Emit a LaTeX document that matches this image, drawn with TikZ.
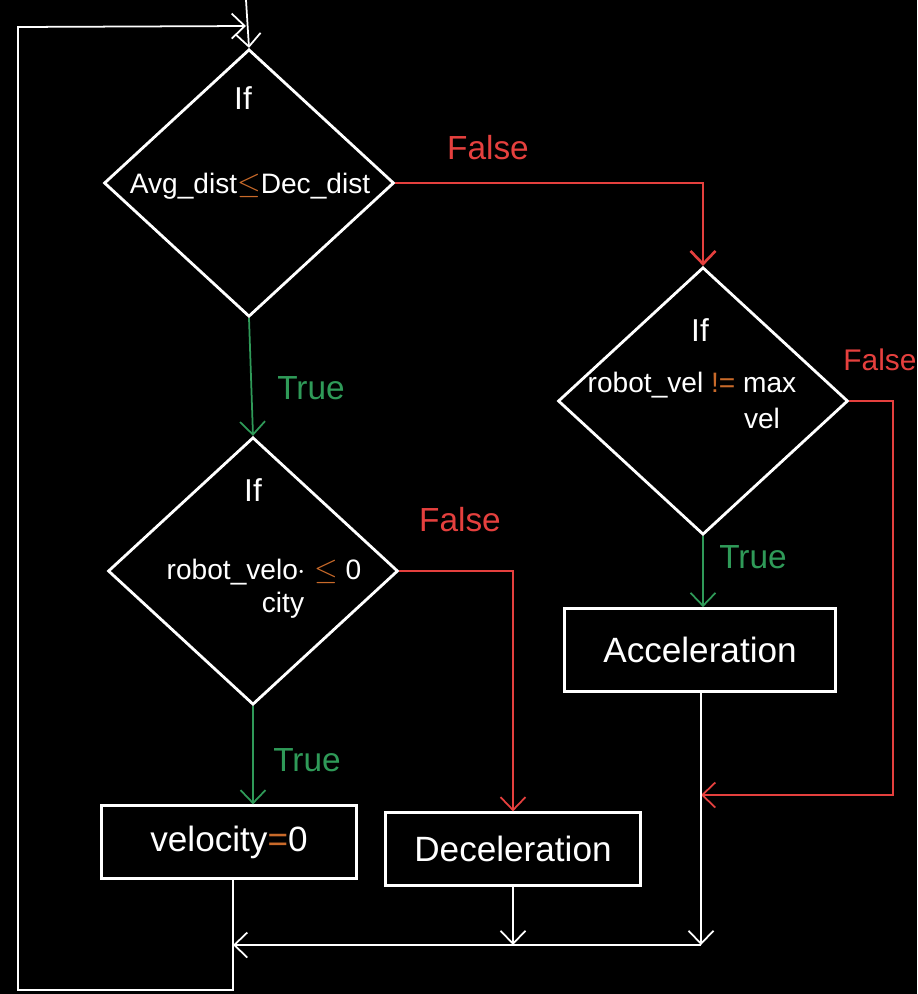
\documentclass[tikz,border=0pt]{standalone}
\usepackage{fontspec}
\setmainfont{Liberation Sans}
\usepackage{tikz}
\usetikzlibrary{
  positioning,
  arrows.meta,
  shapes.geometric
}
\usepackage{amsmath,amssymb}
\usepackage{xcolor}
\definecolor{falsered}{HTML}{E5403E}
\definecolor{truegreen}{HTML}{2F9A58}
\definecolor{ineq}{HTML}{C96A2A}

\begin{document}
\begin{tikzpicture}[
  x=0.02cm, y=-0.02cm,
  decision/.style={draw=white, line width=1.6pt, shape=diamond, inner sep=0pt,
                   minimum width=5.8cm, minimum height=5.35cm},
  box/.style={draw=white, line width=1.6pt, minimum width=5.1cm, minimum height=1.45cm,
              text=white, font=\fontsize{20}{24}\selectfont},
  txt/.style={text=white, font=\fontsize{16}{19}\selectfont, inner sep=1pt},
  lbl/.style={font=\fontsize{19}{22}\selectfont, inner sep=1pt},
  arr/.style={-{Straight Barb[length=2.6mm, width=5mm]}, line width=1pt, white},
  yes/.style={arr, truegreen},
  no/.style={arr, falsered}
]
  \path[use as bounding box, fill=black] (0,0) rectangle (917,994);

  % decisions
  \node[decision] (avgdist) at (249,183) {};
  \node[txt, font=\fontsize{18}{22}\selectfont] (avgif) at (243,98) {If};
  \node[txt] (avgcond) at (250,186) {Avg\_dist{\color{ineq}$\le$}Dec\_dist};

  \node[decision] (robvelo) at (253,571) {};
  \node[txt, font=\fontsize{18}{22}\selectfont] (roboif) at (253,490) {If};
  \node[txt] (robocond) at (264,572) {robot\_velo$\cdot$\ {\color{ineq}$\le$}\ 0};
  \node[txt] (robocity) at (283,605) {city};

  \node[decision] (maxvel) at (703,401) {};
  \node[txt, font=\fontsize{18}{22}\selectfont] (maxif) at (700,330) {If};
  \node[txt] (maxcond) at (692,385) {robot\_vel {\color{ineq}!=} max};
  \node[txt] (maxvelline) at (762,418) {vel};

  % actions
  \node[box] (velzero) at (229,842) {velocity{\color{ineq}=}0};
  \node[box] (decel) at (513,849) {Deceleration};
  \node[box, minimum width=5.42cm, minimum height=1.66cm] (accel) at (700,650) {Acceleration};

  % helper points
  \coordinate (entry) at (246,0);
  \coordinate (looptop) at (246,26);
  \coordinate (merge) at (233,945);
  \coordinate (accmerge) at (701,945);
  \coordinate (loopbot) at (233,990);
  \coordinate (loopleft) at (18,990);
  \coordinate (loopup) at (18,27);
  \coordinate (rcorner) at (893,795);
  \coordinate (accin) at (701,795);

  % branches
  \draw[no, line width=1.5pt] (avgdist.east) -| (maxvel.north);
  \draw[yes] (avgdist.south) -- (robvelo.north);
  \draw[no] (robvelo.east) -| (decel.north);
  \draw[yes] (robvelo.south) -- (velzero.north -| robvelo.south);
  \draw[yes] (maxvel.south) -- (accel.north -| maxvel.south);
  \draw[no] (maxvel.east) -| (rcorner) -- (accin);

  % merge and loop back
  \draw[arr] (accel.south -| accmerge) -- (accmerge);
  \draw[arr] (decel.south) -- (decel.south |- merge);
  \draw[arr] (accmerge) -- (merge);
  \draw[arr] (merge |- velzero.south) -- (loopbot) -- (loopleft) -- (loopup) -- (looptop);
  \draw[arr] (entry) -- (avgdist.north);

  % labels
  \node[lbl, falsered] (f1) at (488,148) {False};
  \node[lbl, truegreen] (t1) at (311,388) {True};
  \node[lbl, falsered] (f2) at (460,520) {False};
  \node[lbl, truegreen] (t2) at (307,760) {True};
  \node[lbl, truegreen] (t3) at (753,557) {True};
  \node[lbl, falsered, font=\fontsize{17}{20}\selectfont] (f3) at (880,360) {False};
\end{tikzpicture}
\end{document}
